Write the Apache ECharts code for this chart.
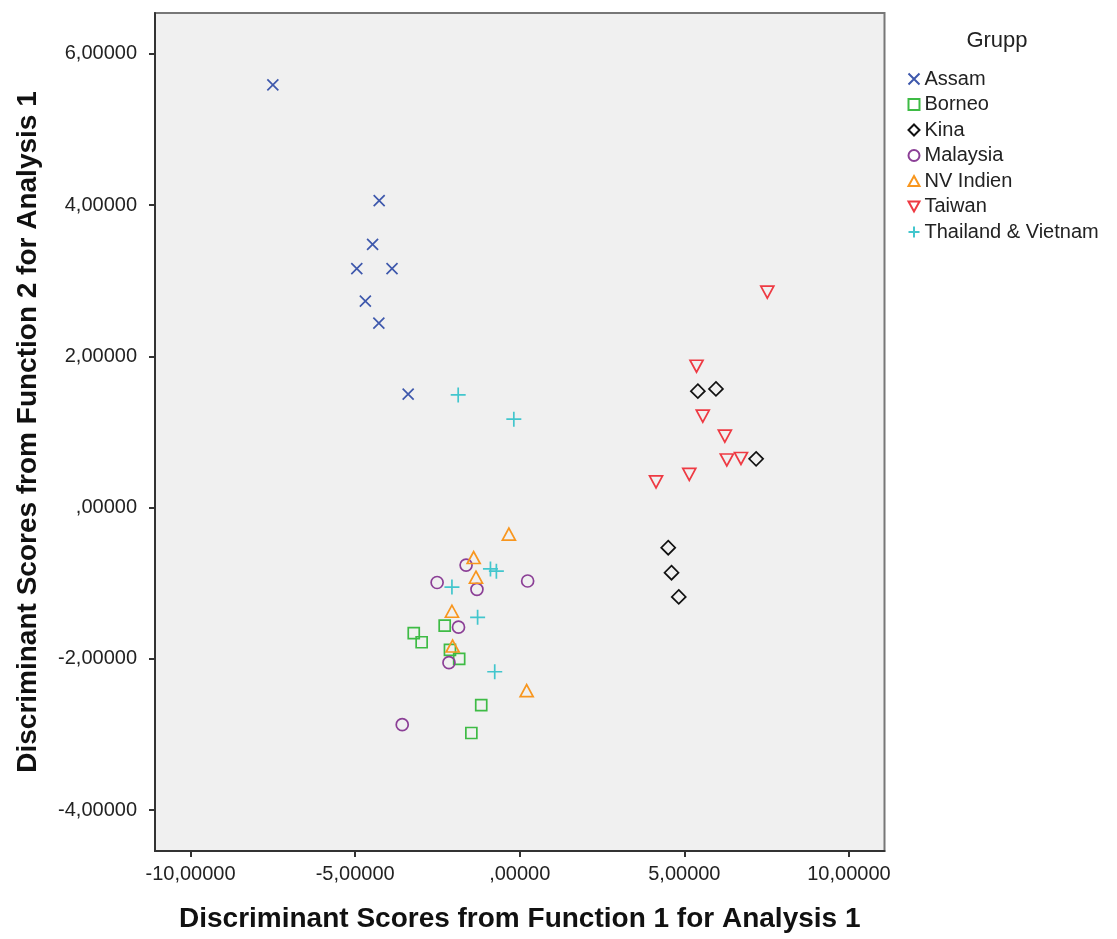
<!DOCTYPE html>
<html>
<head>
<meta charset="utf-8">
<script src="https://cdn.jsdelivr.net/npm/echarts@6/dist/echarts.min.js"></script>
<style>
html,body{margin:0;padding:0;background:#fff;}
#c{width:1117px;height:939px;}
</style>
</head>
<body>
<div id="c"></div>
<script>
// ---- data ----
const groups = ['Assam','Borneo','Kina','Malaysia','NV Indien','Taiwan','Thailand & Vietnam'];

const assamX = [-7.50, -4.27, -4.47, -4.95, -3.88, -4.69, -4.28, -3.39];
const assamY = [5.59, 4.06, 3.48, 3.16, 3.16, 2.73, 2.44, 1.50];

const borneoX = [-2.28, -3.22, -2.98, -2.12, -1.84, -1.17, -1.47];
const borneoY = [-1.56, -1.66, -1.78, -1.88, -2.00, -2.61, -2.98];

const kinaX = [5.41, 5.96, 7.18, 4.51, 4.61, 4.83];
const kinaY = [1.54, 1.57, 0.645, -0.53, -0.86, -1.18];

const malaysiaX = [-1.63, -2.51, -1.30, 0.24, -1.86, -2.15, -3.57];
const malaysiaY = [-0.76, -0.99, -1.08, -0.97, -1.58, -2.05, -2.87];

const nvIndienX = [-0.33, -1.40, -1.33, -2.06, -2.04, 0.21];
const nvIndienY = [-0.35, -0.66, -0.92, -1.37, -1.83, -2.42];

const taiwanX = [7.52, 5.37, 5.56, 6.23, 6.29, 6.72, 5.15, 4.14];
const taiwanY = [2.85, 1.87, 1.21, 0.945, 0.63, 0.65, 0.44, 0.34];

const thaiX = [-1.87, -0.18, -0.89, -0.71, -2.06, -1.28, -0.76];
const thaiY = [1.49, 1.17, -0.81, -0.84, -1.05, -1.45, -2.17];

const xTicks = [-10, -5, 0, 5, 10];
const yTicks = [-4, -2, 0, 2, 4, 6];

// ---- styling ----
const FONT = "'Liberation Sans', Arial, sans-serif";
const colors = ['#3E58AC', '#3EBB45', '#111111', '#8B3F96', '#F8961E', '#EE3A43', '#42C6CD'];
const symbols = [
  'path://M0,0L10,10M10,0L0,10',
  'rect',
  'path://M5,0L10,5L5,10L0,5Z',
  'circle',
  'path://M5,0L10,9L0,9Z',
  'path://M0,0L10,0L5,9Z',
  'path://M5,0L5,10M0,5L10,5'
];
const sizes = [11, 11, 14, 12, [13, 12], [13, 12], 15];

function zip(xs, ys){ return xs.map((x,i)=>[x, ys[i]]); }
const seriesData = [
  zip(assamX, assamY), zip(borneoX, borneoY), zip(kinaX, kinaY),
  zip(malaysiaX, malaysiaY), zip(nvIndienX, nvIndienY),
  zip(taiwanX, taiwanY), zip(thaiX, thaiY)
];

function fmt(v){
  let s = Math.abs(v).toFixed(5).replace('.', ',');
  if (s.startsWith('0,')) s = s.slice(1);
  return (v < 0 ? '-' : '') + s;
}

const chart = echarts.init(document.getElementById('c'), null, {renderer:'canvas'});
chart.setOption({
  animation: false,
  textStyle: {fontFamily: FONT},
  title: {
    text: 'Grupp', left: 992, top: 25, textAlign: 'center',
    textStyle: {fontFamily: FONT, fontSize: 22, fontWeight: 'normal', color: '#222'}
  },
  legend: {
    orient: 'vertical', left: 902.5, top: 64,
    itemWidth: 11, itemHeight: 11, itemGap: 5.5,
    textStyle: {fontFamily: FONT, fontSize: 20, lineHeight: 20, color: '#222', padding: [0,0,0,0]},
    data: groups
  },
  grid: {
    left: 155, right: 232.5, top: 13, bottom: 88,
    show: true, backgroundColor: '#F0F0F0', borderColor: '#777', borderWidth: 2
  },
  xAxis: {
    type: 'value', min: -11.08, max: 11.08,
    splitLine: {show: false},
    axisLine: {show: true, onZero: false, lineStyle: {color: '#333', width: 2}},
    axisTick: {show: true, length: 6, lineStyle: {color: '#333', width: 2}, customValues: xTicks},
    axisLabel: {customValues: xTicks, formatter: fmt, fontSize: 20, color: '#222', margin: 13, fontFamily: FONT},
    name: 'Discriminant Scores from Function 1 for Analysis 1',
    nameLocation: 'middle', nameGap: 54,
    nameTextStyle: {fontFamily: FONT, fontSize: 28, fontWeight: 'bold', color: '#111'}
  },
  yAxis: {
    type: 'value', min: -4.54, max: 6.54,
    splitLine: {show: false},
    axisLine: {show: true, onZero: false, lineStyle: {color: '#333', width: 2}},
    axisTick: {show: true, length: 6, lineStyle: {color: '#333', width: 2}, customValues: yTicks},
    axisLabel: {customValues: yTicks, formatter: fmt, fontSize: 20, color: '#222', margin: 18, fontFamily: FONT},
    name: 'Discriminant Scores from Function 2 for Analysis 1',
    nameLocation: 'middle', nameGap: 113,
    nameTextStyle: {fontFamily: FONT, fontSize: 28, fontWeight: 'bold', color: '#111'}
  },
  series: groups.map((g, i) => ({
    name: g, type: 'scatter',
    data: seriesData[i],
    symbol: symbols[i], symbolSize: sizes[i],
    itemStyle: {color: 'rgba(0,0,0,0)', borderColor: colors[i], borderWidth: 1.7, opacity: 1},
    emphasis: {disabled: true}
  }))
});
</script>
</body>
</html>
